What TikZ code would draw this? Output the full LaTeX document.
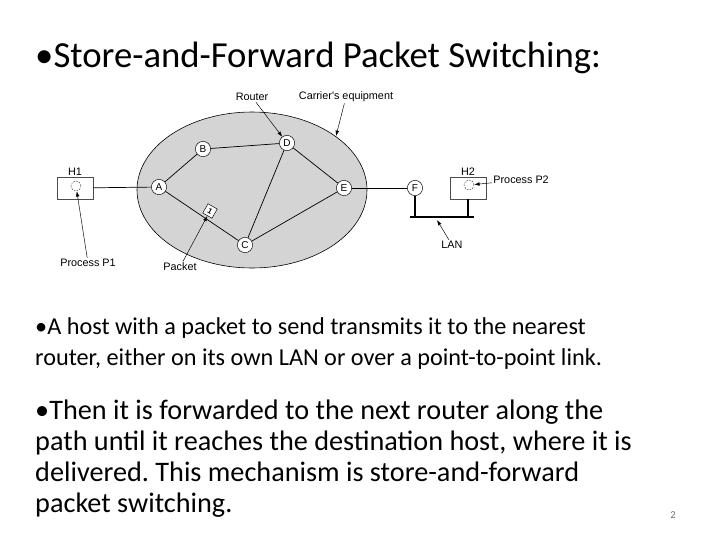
\documentclass[tikz,border=0pt]{standalone}
\usepackage{fontspec}
\setmainfont{Carlito}
\newfontfamily\figfont{Liberation Sans}
\frenchspacing
\usetikzlibrary{arrows.meta,positioning}
\tikzset{
  routernode/.style={circle,draw=black,fill=white,inner sep=0pt,minimum size=13pt,
    font=\figfont\fontsize{8.5}{9}\selectfont},
  hostbox/.style={draw=black!70,fill=white,minimum width=31pt,minimum height=19pt,inner sep=0pt},
  procnode/.style={circle,draw=black!70,dashed,dash pattern=on 1.5pt off 1pt,inner sep=0pt,minimum size=8.5pt},
  packetbox/.style={draw=black,fill=white,inner sep=0pt,minimum size=9pt,
    font=\figfont\bfseries\fontsize{6.5}{7}\selectfont},
  figurelabel/.style={font=\figfont\fontsize{9.2}{10}\selectfont,inner sep=1pt},
  linkline/.style={draw=black,line width=0.6pt},
  pointarrow/.style={-{Latex[length=1.6mm,width=1.1mm]},line width=0.4pt},
  lanbar/.style={line width=1.8pt},
  bodytext/.style={anchor=base west,align=left,inner sep=0pt,
    font=\fontsize{20.6}{25.8}\selectfont}
}

\begin{document}
\begin{tikzpicture}[x=0.85pt,y=-0.85pt]
  \useasboundingbox (0,0) rectangle (720,540);

  \node[anchor=base west,inner sep=0pt,font=\fontsize{31.2}{36}\selectfont] (title) at (35,67)
    {•Store-and-Forward Packet Switching:};

  % carrier's equipment
  \draw[fill=black!17,draw=black,line width=0.5pt] (252,190) ellipse [x radius=115,y radius=78];

  % routers
  \node[routernode] (a) at (159,187) {A};
  \node[routernode] (b) at (203,149) {B};
  \node[routernode] (d) at (287,143) {D};
  \node[routernode] (c) at (245,245) {C};
  \node[routernode] (e) at (344,188) {E};
  \node[routernode] (f) at (415,188) {F};

  % hosts
  \node[hostbox] (h1) at (75,188) {};
  \node[hostbox] (h2) at (468,188) {};
  \node[figurelabel,above=0pt of h1] (h1lab) {H1};
  \node[figurelabel,above=0pt of h2] (h2lab) {H2};
  \node[procnode] (p1) at (76,186) {};
  \node[procnode] (p2) at (469,185) {};

  \draw[linkline] (h1) -- (a);
  \draw[linkline] (a) -- (b);
  \draw[linkline] (b) -- (d);
  \draw[linkline] (d) -- (c);
  \draw[linkline] (d) -- (e);
  \draw[linkline] (a) -- (c);
  \draw[linkline] (c) -- (e);
  \draw[linkline] (e) -- (f);

  \node[packetbox,rotate=-30] (pkt) at (210,211) {1};

  % LAN
  \coordinate (lanl) at (410,217);
  \coordinate (lanr) at (474,217);
  \coordinate (fdrop) at (415,217);
  \coordinate (hdrop) at (468,217);
  \draw[lanbar] (lanl) -- (lanr);
  \draw[line width=1.2pt] (f) -- (fdrop);
  \draw[line width=1.2pt] (h2) -- (hdrop);

  % labels
  \node[figurelabel] (routerlab) at (252,97) {Router};
  \node[figurelabel] (carrierlab) at (346,97) {Carrier's equipment};
  \node[figurelabel] (p1lab) at (88,263) {Process P1};
  \node[figurelabel] (pktlab) at (180,267) {Packet};
  \node[figurelabel,anchor=west] (p2lab) at (492,180) {Process P2};
  \node[figurelabel] (lanlab) at (452,245) {LAN};
  \coordinate (carriertip) at (336,136);
  \coordinate (lantip) at (437,220);

  \draw[pointarrow] (routerlab) -- (d);
  \draw[pointarrow] (carrierlab) -- (carriertip);
  \draw[pointarrow] (p1lab) -- (p1);
  \draw[pointarrow] (pktlab) -- (pkt);
  \draw[pointarrow] (p2lab) -- (p2);
  \draw[pointarrow] (lanlab) -- (lantip);

  \node[bodytext] (para1) at (35,365)
    {•A host with a packet to send transmits it to the nearest\\
     router, either on its own LAN or over a point-to-point link.};
  \node[bodytext,font=\fontsize{24}{26.1}\selectfont] (para2) at (35,512)
    {•Then it is forwarded to the next router along the\\
     path until it reaches the destination host, where it is\\
     delivered. This mechanism is store-and-forward\\
     packet switching.};

  \node[font=\fontsize{9}{10}\selectfont,text=black!55] (pagenum) at (673,515) {2};
\end{tikzpicture}
\end{document}
